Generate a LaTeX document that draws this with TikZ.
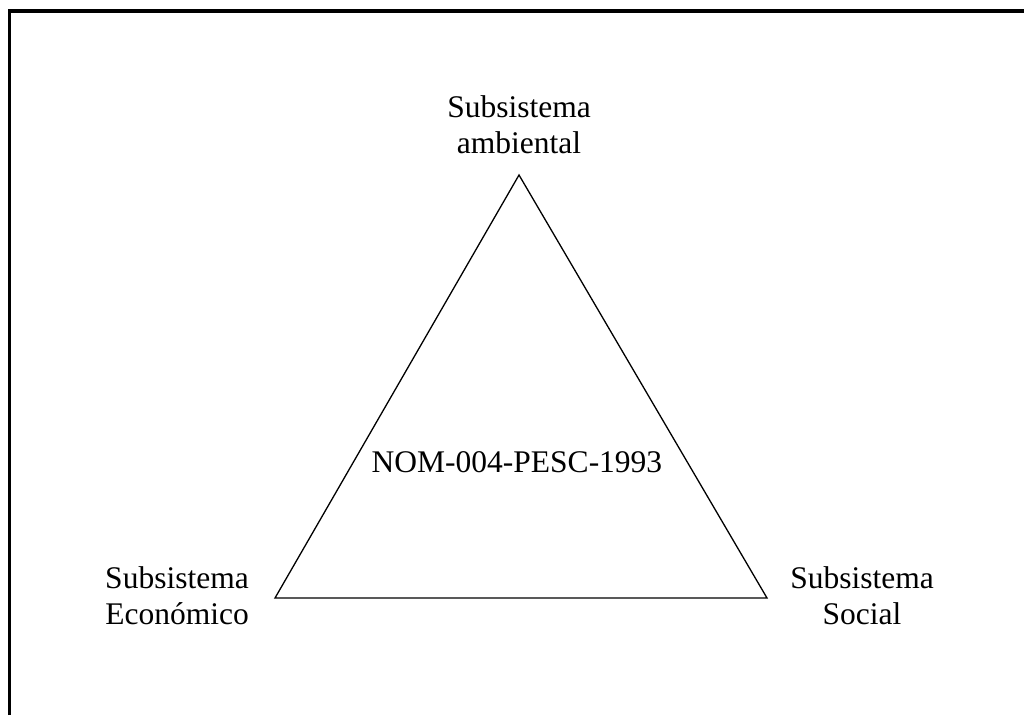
\documentclass[tikz,border=0pt]{standalone}
\usepackage{fontspec}
\setmainfont{Liberation Serif}
\begin{document}
\begin{tikzpicture}[x=1pt,y=-1pt,every node/.style={font=\fontsize{31.5}{36}\selectfont,align=center}]
      \useasboundingbox (0,0) rectangle (1024,715);
      \draw[line width=3.2pt] (9.5,715) -- (9.5,11) -- (1024,11);
      \coordinate (A) at (519,175);
      \coordinate (E) at (275,598);
      \coordinate (S) at (767,598);
      \node (LA) at (519,125) {Subsistema\\ambiental};
      \node (LE) at (177,596) {Subsistema\\Econ\'omico};
      \node (LS) at (862,596) {Subsistema\\Social};
      \node (N) at (517,462) {NOM-004-PESC-1993};
      \path[draw,line width=1.3pt]
      (A) -- (S) -- (E) -- cycle;
    \end{tikzpicture}
\end{document}
